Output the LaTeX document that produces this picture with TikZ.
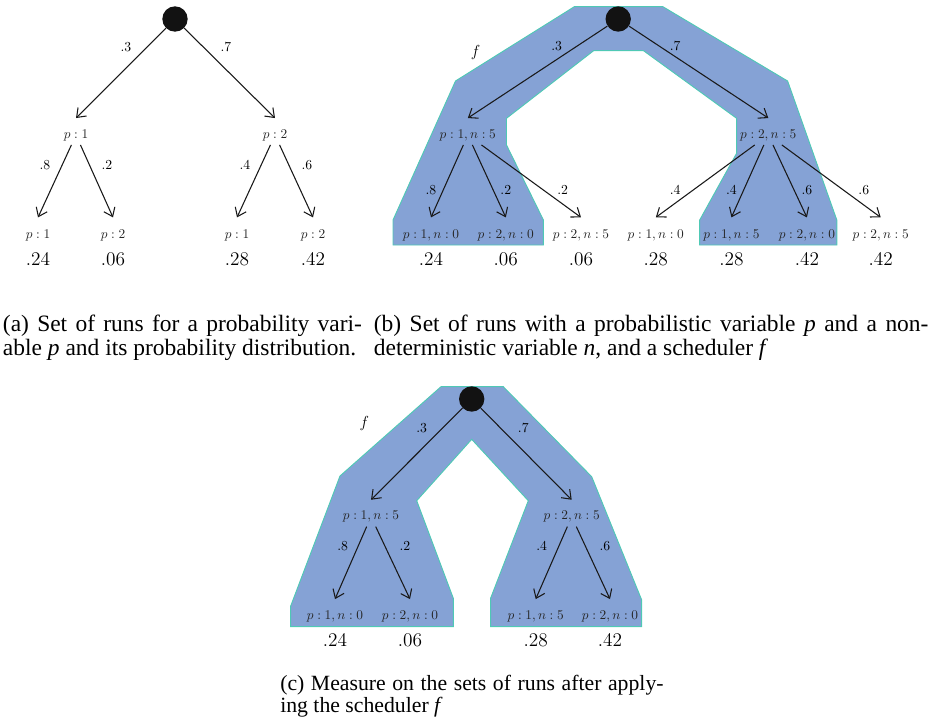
\documentclass[tikz,border=0pt]{standalone}
\usepackage{fontspec}
\newfontfamily\capfont{Liberation Serif}
\usetikzlibrary{arrows.meta}
\definecolor{schedfill}{HTML}{85A2D5}
\definecolor{schededge}{HTML}{4FC9B5}
\begin{document}
\begin{tikzpicture}[x=0.75pt,y=-0.75pt,
  rootnode/.style={circle,fill=black!93,minimum size=19pt,inner sep=0pt},
  innernode/.style={font=\fontsize{10.4}{12}\selectfont,text=black!85,text height=6.5pt,text depth=2pt,inner xsep=2pt,inner ysep=3pt},
  leafnode/.style={font=\fontsize{10.4}{12}\selectfont,text=black!85,text height=6.5pt,text depth=2pt,inner xsep=2pt,inner ysep=8.75pt},
  valnode/.style={font=\fontsize{14.5}{16}\selectfont,inner sep=0pt},
  elab/.style={font=\fontsize{10.3}{12}\selectfont,inner sep=0pt},
  flab/.style={font=\fontsize{13}{15}\selectfont,inner sep=0pt},
  arr/.style={-{Straight Barb[length=6pt,width=9pt]},line width=0.8pt,black!90},
  sched/.style={fill=schedfill,draw=schededge,line width=0.7pt,line join=miter},
  capnode/.style={anchor=base west,inner sep=0pt,font=\capfont}
]
\useasboundingbox (0,0) rectangle (931,724);

% ---------------- scheduler regions ----------------
\path[sched] (393,245) -- (393,220) -- (455.5,81) -- (574.3,6.7) -- (662.9,6.7)
  -- (787.6,81) -- (836.8,220) -- (836.8,245) -- (699.7,245) -- (699.7,220)
  -- (736.6,153.3) -- (736.6,118.3) -- (643.5,50.7) -- (593.6,50.7)
  -- (506.5,118.3) -- (506.5,145) -- (543.4,220) -- (543.4,245) -- cycle;
\path[sched] (441,386.7) -- (503.3,386.7) -- (591.7,476.7) -- (641.7,600)
  -- (641.7,626.7) -- (490.7,626.7) -- (490.7,598) -- (528.3,500.7)
  -- (471.7,439.3) -- (416.7,500.7) -- (453.3,598.3) -- (453.3,626.7)
  -- (290.7,626.7) -- (290.7,606) -- (340,476) -- cycle;

% ---------------- panel (a) ----------------
\node[rootnode] (ra) at (175,19) {};
\node[innernode] (a1) at (76,135) {$p:1$};
\node[innernode] (a2) at (275,135) {$p:2$};
\node[leafnode] (a11) at (38,235) {$p:1$};
\node[leafnode] (a12) at (113,235) {$p:2$};
\node[leafnode] (a21) at (237,235) {$p:1$};
\node[leafnode] (a22) at (313,235) {$p:2$};
\node[valnode] (va11) at (38,259) {.24};
\node[valnode] (va12) at (113,259) {.06};
\node[valnode] (va21) at (237,259) {.28};
\node[valnode] (va22) at (313,259) {.42};
\draw[arr] (ra) -- ([yshift=5.25pt]a1.north);
\draw[arr] (ra) -- ([yshift=5.25pt]a2.north);
\draw[arr] (a1) -- (a11.north);
\draw[arr] (a1) -- (a12.north);
\draw[arr] (a2) -- (a21.north);
\draw[arr] (a2) -- (a22.north);
\node[elab] (la1) at (126,47) {.3};
\node[elab] (la2) at (226,47) {.7};
\node[elab] (la11) at (45,165) {.8};
\node[elab] (la12) at (107,165) {.2};
\node[elab] (la21) at (245,165) {.4};
\node[elab] (la22) at (307,165) {.6};

% ---------------- panel (b) ----------------
\node[rootnode] (rb) at (618.2,19) {};
\node[flab] (fb) at (475.6,53) {$f$};
\node[innernode] (b1) at (467.8,135) {$p:1,n:5$};
\node[innernode] (b2) at (768.3,135) {$p:2,n:5$};
\node[leafnode] (b11) at (431,235) {$p:1,n:0$};
\node[leafnode] (b12) at (505.8,235) {$p:2,n:0$};
\node[leafnode] (b13) at (581,235) {$p:2,n:5$};
\node[leafnode] (b21) at (655.8,235) {$p:1,n:0$};
\node[leafnode] (b22) at (731.4,235) {$p:1,n:5$};
\node[leafnode] (b23) at (806.9,235) {$p:2,n:0$};
\node[leafnode] (b24) at (880.7,235) {$p:2,n:5$};
\node[valnode] (vb11) at (431,259) {.24};
\node[valnode] (vb12) at (505.8,259) {.06};
\node[valnode] (vb13) at (581,259) {.06};
\node[valnode] (vb21) at (655.8,259) {.28};
\node[valnode] (vb22) at (731.4,259) {.28};
\node[valnode] (vb23) at (806.9,259) {.42};
\node[valnode] (vb24) at (880.7,259) {.42};
\draw[arr] (rb) -- ([yshift=5.25pt]b1.north);
\draw[arr] (rb) -- ([yshift=5.25pt]b2.north);
\draw[arr] (b1) -- (b11.north);
\draw[arr] (b1) -- (b12.north);
\draw[arr] (b1) -- (b13.north);
\draw[arr] (b2) -- (b21.north);
\draw[arr] (b2) -- (b22.north);
\draw[arr] (b2) -- (b23.north);
\draw[arr] (b2) -- (b24.north);
\node[elab] (lb1) at (556.7,46) {.3};
\node[elab] (lb2) at (675.2,46) {.7};
\node[elab] (lb11) at (431,190) {.8};
\node[elab] (lb12) at (505.8,190) {.2};
\node[elab] (lb13) at (562.7,190) {.2};
\node[elab] (lb21) at (675.2,190) {.4};
\node[elab] (lb22) at (731.4,190) {.4};
\node[elab] (lb23) at (806.9,190) {.6};
\node[elab] (lb24) at (863.8,190) {.6};

% ---------------- panel (c) ----------------
\node[rootnode] (rc) at (471.7,399) {};
\node[flab] (fc) at (364.3,423.3) {$f$};
\node[innernode] (c1) at (371,516.7) {$p:1,n:5$};
\node[innernode] (c2) at (571.7,516.7) {$p:2,n:5$};
\node[leafnode] (c11) at (335,616.7) {$p:1,n:0$};
\node[leafnode] (c12) at (410,616.7) {$p:2,n:0$};
\node[leafnode] (c21) at (535.7,616.7) {$p:1,n:5$};
\node[leafnode] (c22) at (610,616.7) {$p:2,n:0$};
\node[valnode] (vc11) at (335,640) {.24};
\node[valnode] (vc12) at (410,640) {.06};
\node[valnode] (vc21) at (535.7,640) {.28};
\node[valnode] (vc22) at (610,640) {.42};
\draw[arr] (rc) -- ([yshift=5.25pt]c1.north);
\draw[arr] (rc) -- ([yshift=5.25pt]c2.north);
\draw[arr] (c1) -- (c11.north);
\draw[arr] (c1) -- (c12.north);
\draw[arr] (c2) -- (c21.north);
\draw[arr] (c2) -- (c22.north);
\node[elab] (lc1) at (421.7,428.3) {.3};
\node[elab] (lc2) at (523.3,428.3) {.7};
\node[elab] (lc11) at (342.7,545.7) {.8};
\node[elab] (lc12) at (405,545.7) {.2};
\node[elab] (lc21) at (541.7,545.7) {.4};
\node[elab] (lc22) at (605,545.7) {.6};

% ---------------- captions ----------------
\node[capnode] (capa1) at (2.7,331) {\fontsize{17.6}{18}\selectfont\makebox[269.25pt][s]{(a) Set of runs for a probability vari-}};
\node[capnode] (capa2) at (2.7,355) {\fontsize{17.6}{18}\selectfont able \textit{p} and its probability distribution.};
\node[capnode] (capb1) at (373.6,331) {\fontsize{17.6}{18}\selectfont\makebox[416pt][s]{(b) Set of runs with a probabilistic variable \textit{p} and a non-}};
\node[capnode] (capb2) at (373.6,355) {\fontsize{17.6}{18}\selectfont deterministic variable \textit{n}, and a scheduler \textit{f}};
\node[capnode] (capc1) at (280,690) {\fontsize{16.3}{17}\selectfont\makebox[287.5pt][s]{(c) Measure on the sets of runs after apply-}};
\node[capnode] (capc2) at (280,712.7) {\fontsize{16.3}{17}\selectfont ing the scheduler \textit{f}};
\end{tikzpicture}
\end{document}
